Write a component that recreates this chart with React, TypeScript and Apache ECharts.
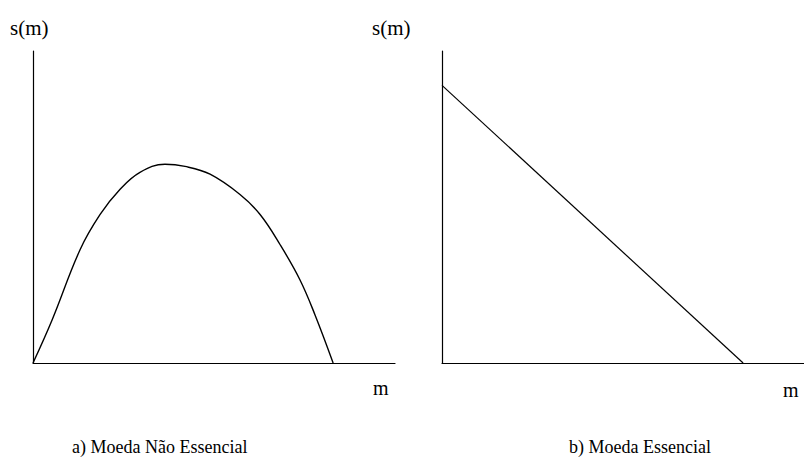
import React, { useEffect, useRef } from "react";
import * as echarts from "echarts";

// a) Moeda Não Essencial — hump-shaped s(m)
const curveM = [0, 0.58, 1.43, 2.04, 2.64, 3.25, 4.01, 4.62, 5.38, 6.29, 6.9, 7.51, 8.11, 8.57, 9.12];
const curveS = [0, 1.38, 3.63, 4.76, 5.56, 6.11, 6.37, 6.3, 6.05, 5.4, 4.76, 3.79, 2.67, 1.54, 0];

// b) Moeda Essencial — straight decreasing s(m)
const lineM = [0, 9.15];
const lineS = [8.9, 0];

const axisMax = { x: 11, y: 10 };
const yLabel = "s(m)";
const xLabel = "m";
const captions = ["a) Moeda Não Essencial", "b) Moeda Essencial"];

const FONT = "'Liberation Serif', 'Times New Roman', serif";

export default function App() {
  const ref = useRef<HTMLDivElement>(null);

  useEffect(() => {
    if (!ref.current) return;
    const chart = echarts.init(ref.current, null, { renderer: "svg" });

    const grids = [
      { left: 33, top: 51, width: 362, height: 312 },
      { left: 442, top: 51, width: 362, height: 312 },
    ];

    const axisLine = { show: true, onZero: false, lineStyle: { color: "#000", width: 1.2 } };
    const bare = {
      axisTick: { show: false },
      axisLabel: { show: false },
      splitLine: { show: false },
      axisLine,
    };

    // free-standing labels, placed by their top-left corner
    const label = (text: string, left: number, top: number, size: number) => ({
      text,
      left,
      top,
      padding: 0,
      itemGap: 0,
      textStyle: {
        color: "#000",
        fontFamily: FONT,
        fontSize: size,
        fontWeight: "normal",
        lineHeight: size,
      },
    });

    chart.setOption({
      animation: false,
      backgroundColor: "#fff",
      title: [
        label(yLabel, 10, 17, 21),
        label(yLabel, 372, 17, 21),
        label(xLabel, 373, 378, 20),
        label(xLabel, 783, 380, 20),
        label(captions[0], 72, 438, 18),
        label(captions[1], 569, 438, 18),
      ],
      grid: grids,
      xAxis: grids.map((_, i) => ({ type: "value", gridIndex: i, min: 0, max: axisMax.x, ...bare })),
      yAxis: grids.map((_, i) => ({ type: "value", gridIndex: i, min: 0, max: axisMax.y, ...bare })),
      series: [
        {
          type: "line",
          xAxisIndex: 0,
          yAxisIndex: 0,
          data: curveM.map((m, i) => [m, curveS[i]]),
          smooth: 0.4,
          showSymbol: false,
          lineStyle: { color: "#000", width: 1.4 },
        },
        {
          type: "line",
          xAxisIndex: 1,
          yAxisIndex: 1,
          data: lineM.map((m, i) => [m, lineS[i]]),
          showSymbol: false,
          lineStyle: { color: "#000", width: 1.2 },
        },
      ],
    });

    return () => chart.dispose();
  }, []);

  return (
    <div
      ref={ref}
      style={{ position: "fixed", left: 0, top: 0, width: 804, height: 457, background: "#fff" }}
    />
  );
}
